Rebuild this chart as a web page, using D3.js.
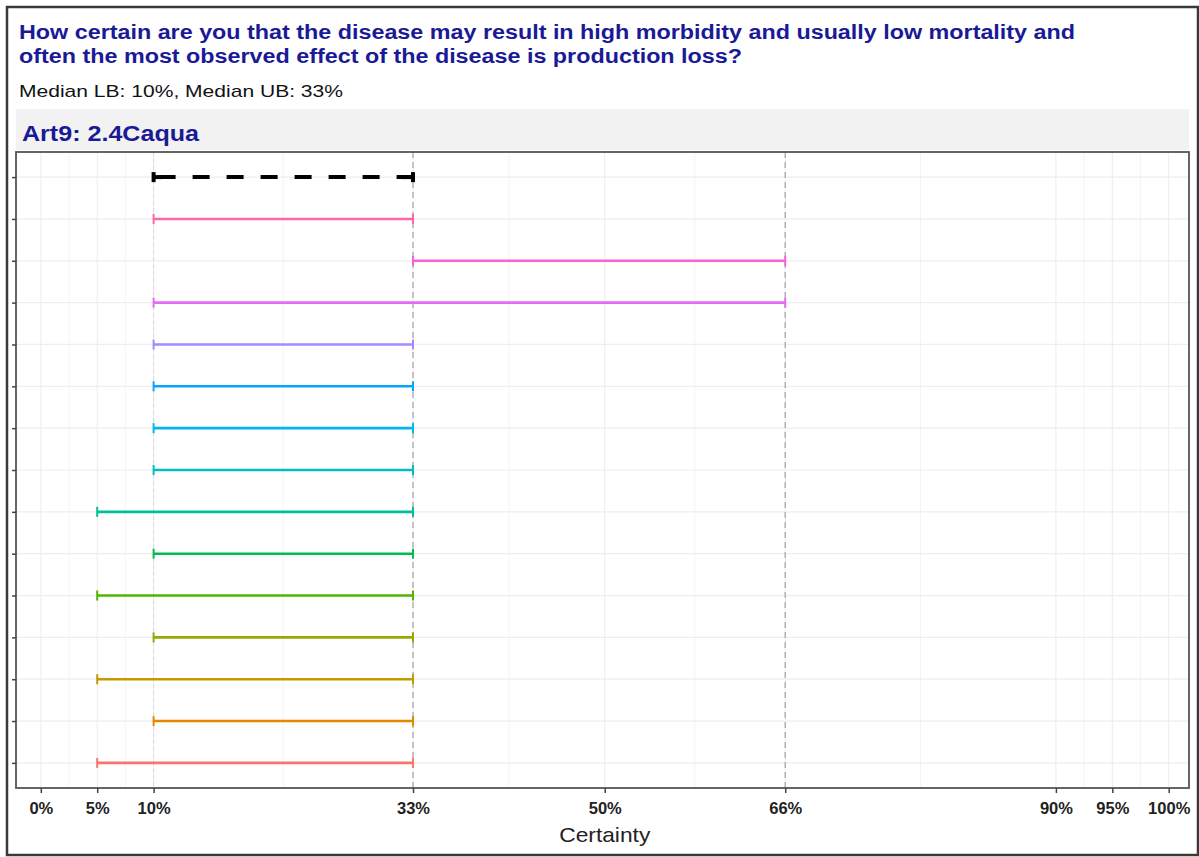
<!DOCTYPE html>
<html>
<head>
<meta charset="utf-8">
<script src="https://cdn.jsdelivr.net/npm/d3@7"></script>
<style>
  html, body { margin: 0; padding: 0; background: #fff; }
  svg { display: block; font-family: "Liberation Sans", Arial, sans-serif; }
</style>
</head>
<body>
<svg id="chart" width="1199" height="857"></svg>
<script>
// Rows from top to bottom: the group median, then each expert's interval
const rows = ["Median", "Expert 14", "Expert 13", "Expert 12", "Expert 11", "Expert 10",
              "Expert 9", "Expert 8", "Expert 7", "Expert 6", "Expert 5", "Expert 4",
              "Expert 3", "Expert 2", "Expert 1"];
const lowerBound = [10, 10, 33, 10, 10, 10, 10, 10, 5, 10, 5, 10, 5, 10, 5];
const upperBound = [33, 33, 66, 66, 33, 33, 33, 33, 33, 33, 33, 33, 33, 33, 33];
const tickValues = [0, 5, 10, 33, 50, 66, 90, 95, 100];
const refLines = [33, 66];
const medianLB = 10, medianUB = 33;

// ggplot-style hue palette for 14 experts (top to bottom), median in black
const palette = ["#000000", "#FF66A8", "#FB61D7", "#E46CF5", "#A58AFF", "#06A4FF",
                 "#00B6EB", "#00BFC4", "#00C094", "#00BC56", "#53B400", "#99A800",
                 "#C49A00", "#E38900", "#F8766D"];

const titleLines = [
  "How certain are you that the disease may result in high morbidity and usually low mortality and",
  "often the most observed effect of the disease is production loss?"
];
const subtitle = `Median LB: ${medianLB}%, Median UB: ${medianUB}%`;
const stripLabel = "Art9: 2.4Caqua";
const xTitle = "Certainty";

const svg = d3.select("#chart");
const W = 1199, H = 857;
const panel = { left: 16, right: 1189, top: 152, bottom: 788 };

// outer frame
svg.append("rect").attr("x", 7).attr("y", 7).attr("width", W - 8).attr("height", H - 9)
  .attr("fill", "#fff").attr("stroke", "#3a3a3a").attr("stroke-width", 2.5);

// titles
const navy = "#1a1a96";
titleLines.forEach((t, i) => {
  svg.append("text").attr("x", 19).attr("y", 39 + i * 24)
    .attr("font-size", 20).attr("font-weight", "bold").attr("fill", navy)
    .attr("textLength", i === 0 ? 1056 : 723).attr("lengthAdjust", "spacingAndGlyphs")
    .text(t);
});
svg.append("text").attr("x", 19).attr("y", 97)
  .attr("font-size", 17).attr("fill", "#111")
  .attr("textLength", 324).attr("lengthAdjust", "spacingAndGlyphs")
  .text(subtitle);

// facet strip
svg.append("rect").attr("x", panel.left).attr("y", 109)
  .attr("width", panel.right - panel.left).attr("height", 41).attr("fill", "#f2f2f2");
svg.append("text").attr("x", 22).attr("y", 141)
  .attr("font-size", 22).attr("font-weight", "bold").attr("fill", navy)
  .attr("textLength", 177).attr("lengthAdjust", "spacingAndGlyphs")
  .text(stripLabel);

// scales
const x = d3.scaleLinear().domain([-2.2, 101.8]).range([panel.left, panel.right]);
const y = d3.scalePoint().domain(rows).range([panel.top, panel.bottom]).padding(0.6);

const g = svg.append("g");
g.append("rect").attr("x", panel.left).attr("y", panel.top)
  .attr("width", panel.right - panel.left).attr("height", panel.bottom - panel.top)
  .attr("fill", "#fff");

// minor vertical grid (midpoints between breaks)
const minor = d3.pairs(tickValues).map(([a, b]) => (a + b) / 2);
g.selectAll("line.minor").data(minor).join("line").attr("class", "minor")
  .attr("x1", d => x(d)).attr("x2", d => x(d))
  .attr("y1", panel.top).attr("y2", panel.bottom)
  .attr("stroke", "#f4f4f4").attr("stroke-width", 1);
// major grid
g.selectAll("line.vmajor").data(tickValues).join("line").attr("class", "vmajor")
  .attr("x1", d => x(d)).attr("x2", d => x(d))
  .attr("y1", panel.top).attr("y2", panel.bottom)
  .attr("stroke", "#ececec").attr("stroke-width", 1);
g.selectAll("line.hmajor").data(rows).join("line").attr("class", "hmajor")
  .attr("x1", panel.left).attr("x2", panel.right)
  .attr("y1", d => y(d)).attr("y2", d => y(d))
  .attr("stroke", "#eeeeee").attr("stroke-width", 1.2);

// median lower bound guide (faint) and reference lines
g.append("line").attr("x1", x(medianLB)).attr("x2", x(medianLB))
  .attr("y1", panel.top).attr("y2", panel.bottom)
  .attr("stroke", "#d8d8d8").attr("stroke-width", 1).attr("stroke-dasharray", "4,3");
g.selectAll("line.ref").data(refLines).join("line").attr("class", "ref")
  .attr("x1", d => x(d)).attr("x2", d => x(d))
  .attr("y1", panel.top).attr("y2", panel.bottom)
  .attr("stroke", "#a8a8a8").attr("stroke-width", 1.3).attr("stroke-dasharray", "6,4");

// interval bars
const data = rows.map((r, i) => ({ r, lo: lowerBound[i], hi: upperBound[i], c: palette[i], median: i === 0 }));
const bars = g.selectAll("g.bar").data(data).join("g").attr("class", "bar");
bars.append("line")
  .attr("x1", d => x(d.lo)).attr("x2", d => x(d.hi))
  .attr("y1", d => y(d.r)).attr("y2", d => y(d.r))
  .attr("stroke", d => d.c).attr("stroke-width", d => d.median ? 4 : 2.6)
  .attr("stroke-dasharray", d => d.median ? "17,17" : null)
  .attr("stroke-dashoffset", d => d.median ? -5 : 0);
["lo", "hi"].forEach(k => {
  bars.append("line")
    .attr("x1", d => x(d[k])).attr("x2", d => x(d[k]))
    .attr("y1", d => y(d.r) - 5).attr("y2", d => y(d.r) + 5)
    .attr("stroke", d => d.c).attr("stroke-width", d => d.median ? 4 : 2);
});
// short solid heads at the ends of the median bar
bars.filter(d => d.median).each(function(d) {
  const s = d3.select(this);
  s.append("line").attr("x1", x(d.lo)).attr("x2", x(d.lo) + 9)
    .attr("y1", y(d.r)).attr("y2", y(d.r)).attr("stroke", d.c).attr("stroke-width", 4);
  s.append("line").attr("x1", x(d.hi) - 12).attr("x2", x(d.hi))
    .attr("y1", y(d.r)).attr("y2", y(d.r)).attr("stroke", d.c).attr("stroke-width", 4);
});

// panel border
g.append("rect").attr("x", panel.left).attr("y", panel.top)
  .attr("width", panel.right - panel.left).attr("height", panel.bottom - panel.top)
  .attr("fill", "none").attr("stroke", "#555").attr("stroke-width", 1.8);

// axes
const xAxis = d3.axisBottom(x).tickValues(tickValues).tickFormat(d => d + "%")
  .tickSize(5).tickPadding(9);
const xg = svg.append("g").attr("transform", `translate(0,${panel.bottom})`).call(xAxis);
xg.select(".domain").remove();
xg.selectAll(".tick line").attr("stroke", "#444").attr("stroke-width", 1.5);
xg.selectAll(".tick text").attr("font-size", 16.5).attr("font-weight", "bold")
  .attr("fill", "#222").attr("font-family", "Liberation Sans, Arial, sans-serif");

const yAxis = d3.axisLeft(y).tickSize(4).tickFormat("");
const yg = svg.append("g").attr("transform", `translate(${panel.left},0)`).call(yAxis);
yg.select(".domain").remove();
yg.selectAll(".tick line").attr("stroke", "#444").attr("stroke-width", 1.5);

svg.append("text").attr("x", (x(0) + x(100)) / 2).attr("y", 842)
  .attr("text-anchor", "middle").attr("font-size", 21).attr("fill", "#222")
  .attr("textLength", 91).attr("lengthAdjust", "spacingAndGlyphs")
  .text(xTitle);
</script>
</body>
</html>
